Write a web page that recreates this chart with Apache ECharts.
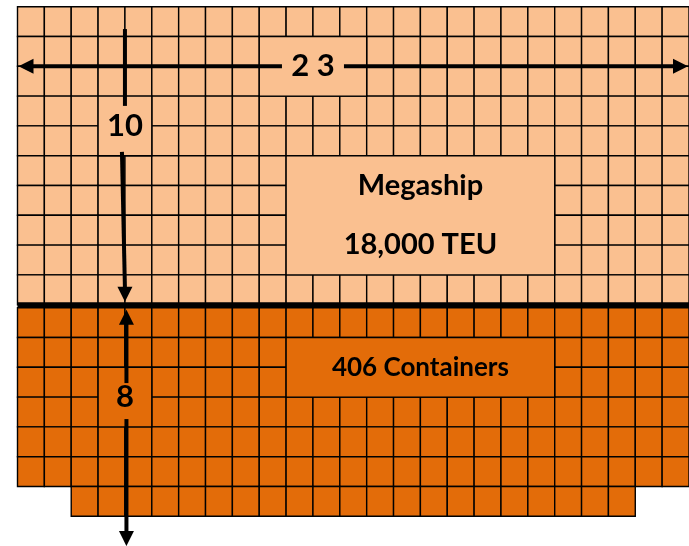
<!DOCTYPE html>
<html>
<head>
<meta charset="utf-8">
<style>
  html, body { margin: 0; padding: 0; background: #ffffff; }
  #chart { width: 689px; height: 546px; }
</style>
<script src="https://cdn.jsdelivr.net/npm/echarts@6/dist/echarts.min.js"></script>
</head>
<body>
<div id="chart"></div>
<script>
// Cross-section of a megaship: container slots stacked above deck and in the hold.
const bayColumns = 25;                 // container columns across the section
const deckTiers = 10;                  // tiers stacked on deck
const holdTiers = 8;                   // tiers in the hold
const holdRowColumns = [               // [first column, end column) of each hold tier, top down
  [0, 25], [0, 25], [0, 25], [0, 25], [0, 25], [0, 25], [2, 23]
];

// Merged label panels laid over the slot grid
const panelZones   = ['deck', 'deck', 'deck', 'hold', 'hold'];
const panelColumns = [[9, 4], [3, 2], [10, 10], [10, 10], [3, 2]];   // [first column, column count]
const panelTiers   = [[1, 2], [3, 2], [5, 4], [1, 2], [2, 2]];       // [first tier from top of zone, tier count]
const panelTexts   = [['2 3'], ['10'], ['Megaship', '18,000 TEU'], ['406 Containers'], ['8']];
const panelKinds   = ['dimension', 'dimension', 'cargo', 'cargo', 'dimension'];

const DECK_FILL = '#FAC090';
const HOLD_FILL = '#E36C09';
const GRID_LINE = '#000000';
const HOLD_GAP = 0.1;                  // hold tiers start just under the deck plate

// tier t of a zone -> [bottom, top] in row units (deck plate at 0)
function tierSpan(zone, t, count) {
  count = count || 1;
  if (zone === 'deck') return [deckTiers - t - count, deckTiers - t];
  return [-(t + count) - HOLD_GAP, -t - HOLD_GAP];
}

function coveredBy(zone, c, t) {
  for (let i = 0; i < panelZones.length; i++) {
    if (panelZones[i] !== zone) continue;
    const [c0, cn] = panelColumns[i];
    const [t0, tn] = panelTiers[i];
    if (c >= c0 && c < c0 + cn && t >= t0 && t < t0 + tn) return true;
  }
  return false;
}

// individual container slots
const slotData = [];
for (let t = 0; t < deckTiers; t++) {
  for (let c = 0; c < bayColumns; c++) {
    if (coveredBy('deck', c, t)) continue;
    const [y0, y1] = tierSpan('deck', t);
    slotData.push([c, y0, c + 1, y1, 0]);
  }
}
holdRowColumns.forEach(([cStart, cEnd], t) => {
  for (let c = cStart; c < cEnd; c++) {
    if (coveredBy('hold', c, t)) continue;
    const [y0, y1] = tierSpan('hold', t);
    slotData.push([c, y0, c + 1, y1, 1]);
  }
});

// merged panels
const panelData = panelZones.map((zone, i) => {
  const [c0, cn] = panelColumns[i];
  const [t0, tn] = panelTiers[i];
  const [y0, y1] = tierSpan(zone, t0, tn);
  return [c0, y0, c0 + cn, y1, i];
});

const FONT = 'Lato, "Open Sans", sans-serif';

function arrowHead(tip, dir, len, half) {
  // dir: unit vector pointing toward the tip
  const bx = tip[0] - dir[0] * len, by = tip[1] - dir[1] * len;
  const px = -dir[1] * half, py = dir[0] * half;
  return {
    type: 'polygon',
    shape: { points: [tip, [bx + px, by + py], [bx - px, by - py]] },
    style: { fill: '#000' }
  };
}
function seg(p0, p1, w) {
  return {
    type: 'line',
    shape: { x1: p0[0], y1: p0[1], x2: p1[0], y2: p1[1] },
    style: { stroke: '#000', lineWidth: w }
  };
}
function panelCenter(api, i) {
  const d = panelData[i];
  const a = api.coord([d[0], d[1]]), b = api.coord([d[2], d[3]]);
  return [(a[0] + b[0]) / 2, (a[1] + b[1]) / 2];
}

const chart = echarts.init(document.getElementById('chart'), null, { renderer: 'canvas' });

chart.setOption({
  animation: false,
  backgroundColor: '#ffffff',
  grid: { left: 17.5, top: 6.7, width: 27 * bayColumns, height: 29.8 * (deckTiers + holdTiers) },
  xAxis: { type: 'value', min: 0, max: bayColumns, show: false },
  yAxis: { type: 'value', min: -holdTiers, max: deckTiers, show: false },
  series: [
    {
      type: 'custom',
      name: 'slots',
      coordinateSystem: 'cartesian2d',
      clip: false,
      silent: true,
      data: slotData,
      encode: { x: [0, 2], y: [1, 3] },
      renderItem: function (params, api) {
        const p0 = api.coord([api.value(0), api.value(3)]);
        const p1 = api.coord([api.value(2), api.value(1)]);
        return {
          type: 'rect',
          shape: { x: p0[0], y: p0[1], width: p1[0] - p0[0], height: p1[1] - p0[1] },
          style: { fill: api.value(4) === 0 ? DECK_FILL : HOLD_FILL, stroke: GRID_LINE, lineWidth: 1.4 }
        };
      }
    },
    {
      type: 'custom',
      name: 'panels',
      coordinateSystem: 'cartesian2d',
      clip: false,
      silent: true,
      data: panelData,
      encode: { x: [0, 2], y: [1, 3] },
      z: 3,
      renderItem: function (params, api) {
        const i = api.value(4);
        const p0 = api.coord([api.value(0), api.value(3)]);
        const p1 = api.coord([api.value(2), api.value(1)]);
        const zone = panelZones[i];
        const cx = (p0[0] + p1[0]) / 2, cy = (p0[1] + p1[1]) / 2;
        const rowPx = api.size([0, 1])[1];
        const lines = panelTexts[i];
        const dim = panelKinds[i] === 'dimension';
        const fontSize = dim ? 31 : (lines.length > 1 ? 29 : 26);
        const children = [{
          type: 'rect',
          shape: { x: p0[0], y: p0[1], width: p1[0] - p0[0], height: p1[1] - p0[1] },
          style: { fill: zone === 'deck' ? DECK_FILL : HOLD_FILL, stroke: GRID_LINE, lineWidth: 1.4 }
        }];
        lines.forEach((s, k) => {
          const off = (k - (lines.length - 1) / 2) * 2 * rowPx;
          children.push({
            type: 'text',
            z2: 5,
            style: {
              text: s, x: cx, y: cy + off,
              align: 'center', verticalAlign: 'middle',
              fontFamily: FONT, fontWeight: 'bold', fontSize: fontSize, fill: '#000'
            }
          });
        });
        return { type: 'group', children: children };
      }
    },
    {
      type: 'custom',
      name: 'dimensions',
      coordinateSystem: 'cartesian2d',
      clip: false,
      silent: true,
      data: [[0, 0]],
      z: 5,
      renderItem: function (params, api) {
        const W = 4, HL = 15, HW = 7.5;
        const els = [];
        // deck plate
        const d0 = api.coord([0, 0]), d1 = api.coord([bayColumns, 0]);
        els.push(seg([d0[0], d0[1]], [d1[0], d1[1]], 5));

        // overall width across the section
        const wc = panelCenter(api, 0);
        const wl = api.coord([0, deckTiers - 2]);
        const wr = [Math.min(api.coord([bayColumns, 0])[0], api.getWidth()), wl[1]];
        els.push(seg([wl[0] + HL - 2, wl[1]], [wc[0] - 31, wl[1]], W));
        els.push(seg([wc[0] + 31, wl[1]], [wr[0] - HL + 2, wl[1]], W));
        els.push(arrowHead([wl[0] + 1, wl[1]], [-1, 0], HL, HW));
        els.push(arrowHead([wr[0] - 1, wl[1]], [1, 0], HL, HW));

        // tiers above deck
        const hc = panelCenter(api, 1);
        const hTop = api.coord([4, deckTiers - 0.75]);
        const deckY = d0[1];
        els.push(seg([hTop[0], hTop[1]], [hc[0], hc[1] - 20], W));
        els.push(seg([hc[0] - 3, hc[1] + 26], [hc[0], deckY - 3 - HL + 2], W));
        els.push(arrowHead([hc[0], deckY - 3], [0, 1], HL, HW));

        // tiers in the hold
        const bc = panelCenter(api, 4);
        const bBot = api.coord([4, -holdTiers - HOLD_GAP]);
        const bx = bc[0] + 1.5;
        els.push(arrowHead([bx, deckY + 5], [0, -1], HL, HW));
        els.push(seg([bx, deckY + 5 + HL - 2], [bx, bc[1] - 14], W));
        els.push(seg([bx, bc[1] + 22], [bx, bBot[1] - HL + 2], W));
        els.push(arrowHead([bx, bBot[1]], [0, 1], HL, HW));
        return { type: 'group', children: els };
      }
    }
  ]
});
</script>
</body>
</html>
